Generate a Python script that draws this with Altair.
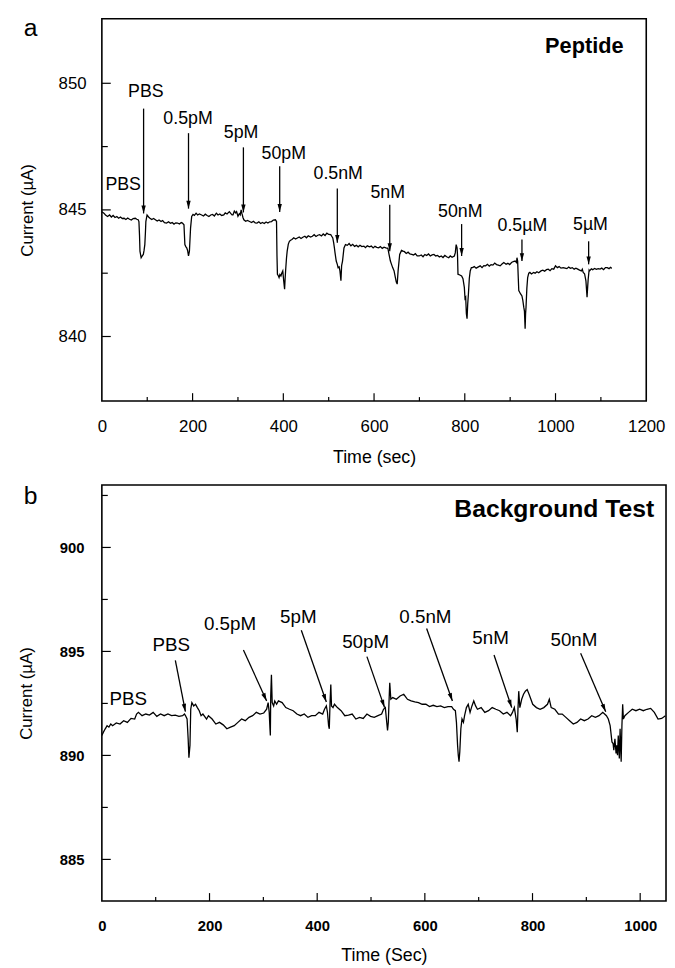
import math
import altair as alt
import pandas as pd

FONT = "Liberation Sans, Arial, Helvetica, sans-serif"

# ---------------- Panel a : Peptide ----------------
time_a = [0, 4.5, 8, 12.6, 17, 21, 24.8, 29, 33, 37, 41, 45, 49, 53, 57, 61, 65, 69, 73.6, 77, 80,
          81.7, 83, 84, 86.6, 89, 91.4, 93, 94.7, 96, 97, 99.6, 103, 106, 110, 114, 118, 122, 126,
          130.5, 134, 138, 142.7, 147, 151, 155, 159, 163, 167, 171, 175, 177.6, 181, 183, 185, 187,
          189, 191, 193, 195.5, 198, 201, 204, 207.7, 211, 215, 220, 224, 228, 232, 236, 240, 244,
          248, 252.4, 256, 260, 264, 268.7, 272, 276, 281, 284, 287, 289, 292, 295, 297, 300, 303,
          305, 307, 309, 311, 313, 317, 321, 325.6, 330, 334, 338, 342, 346, 350, 354, 358, 362,
          366, 370, 374, 378, 382.5, 385, 386, 387, 389, 390.6, 392.5, 394.7, 396.5, 398.8, 400.8,
          402.8, 404, 405, 407, 408.5, 411, 413.4, 416, 419, 423, 427, 431, 435, 439, 443, 447.5,
          451, 455, 460, 464, 468, 472, 476, 480, 484, 488, 492, 496, 500, 504.5, 507, 509, 511,
          512.6, 514, 516.6, 519, 520.7, 523, 524.8, 527, 528.5, 530.5, 533.7, 537, 541, 545, 549,
          553, 557, 561, 565, 569, 573, 577.6, 581, 585, 590, 594, 598, 602, 606, 610, 614, 618,
          622, 626, 630.5, 633, 636, 638.5, 641, 644, 647, 649, 651, 653, 656.5, 660.5, 664, 667,
          671, 675, 679, 683, 687, 691, 695, 699.6, 704, 708, 712, 716, 720, 724, 728, 732, 736,
          740, 744, 748, 752, 756, 760, 764.6, 768, 772, 777, 779, 781, 783, 784, 785, 789, 793,
          796, 799, 800.5, 802, 803.5, 805, 806.5, 808, 810, 812, 814.5, 817, 821, 825, 830, 834,
          838, 842, 846, 850, 854, 858, 862, 866, 870, 874, 878, 882, 886, 891, 895, 899, 903, 907,
          911, 914, 915, 916.5, 917.5, 919, 921, 923, 926, 928, 930, 931.5, 933, 934, 935, 936.8,
          938.6, 941, 943.5, 947, 951.6, 955, 959, 963, 968, 972, 976, 980, 984, 988, 992, 996,
          1000, 1004, 1008, 1012, 1017, 1021, 1025, 1029, 1033, 1037, 1041, 1045, 1049, 1053, 1057,
          1059, 1061, 1064, 1067, 1069.5, 1071, 1072, 1074, 1075, 1079, 1082, 1086, 1090, 1094,
          1098, 1102, 1106, 1110, 1114, 1118, 1121, 1124]
current_a = [844.93, 844.87, 844.80, 844.74, 844.80, 844.72, 844.78, 844.70, 844.74, 844.67, 844.72,
             844.66, 844.67, 844.62, 844.68, 844.63, 844.60, 844.66, 844.67, 844.63, 844.61,
             844.54, 844.0, 843.37, 843.11, 843.18, 843.24, 843.4, 843.63, 844.1, 844.54, 844.80,
             844.72, 844.67, 844.62, 844.66, 844.61, 844.56, 844.60, 844.54, 844.58, 844.50,
             844.48, 844.53, 844.47, 844.50, 844.44, 844.49, 844.48, 844.44, 844.50, 844.48,
             844.41, 843.63, 843.55, 843.50, 843.40, 843.18, 843.37, 844.28, 844.74, 844.82,
             844.78, 844.87, 844.80, 844.84, 844.80, 844.76, 844.83, 844.78, 844.74, 844.80,
             844.82, 844.76, 844.87, 844.80, 844.84, 844.78, 844.80, 844.88, 844.84, 844.93,
             844.86, 844.80, 844.80, 844.95, 844.88, 844.93, 844.75, 844.85, 844.80, 845.0,
             844.84, 844.70, 844.61, 844.55, 844.58, 844.54, 844.50, 844.55, 844.49, 844.48,
             844.53, 844.46, 844.50, 844.46, 844.52, 844.48, 844.53, 844.54, 844.60, 844.61,
             844.54, 843.2, 842.46, 842.4, 842.33, 842.45, 842.39, 842.5, 842.59, 842.2, 841.87,
             842.3, 842.59, 843.1, 843.37, 843.65, 843.76, 843.80, 843.83, 843.90, 843.85, 843.89,
             843.93, 843.87, 843.92, 843.96, 843.90, 843.98, 843.93, 843.96, 844.02, 843.95,
             844.00, 844.02, 843.97, 844.05, 843.99, 844.08, 844.03, 844.02, 843.95, 843.89,
             843.70, 843.50, 843.30, 842.98, 842.85, 842.72, 842.75, 842.59, 842.20, 842.8,
             842.98, 843.50, 843.63, 843.60, 843.67, 843.58, 843.64, 843.56, 843.60, 843.54,
             843.60, 843.55, 843.57, 843.51, 843.58, 843.54, 843.57, 843.50, 843.56, 843.52,
             843.50, 843.55, 843.48, 843.53, 843.50, 843.48, 843.24, 842.98, 842.85, 842.72,
             842.60, 842.33, 842.15, 842.07, 842.59, 843.24, 843.40, 843.37, 843.35, 843.28,
             843.33, 843.26, 843.24, 843.22, 843.27, 843.18, 843.18, 843.22, 843.15, 843.24,
             843.20, 843.26, 843.18, 843.22, 843.24, 843.18, 843.20, 843.14, 843.18, 843.12,
             843.20, 843.15, 843.11, 843.18, 843.13, 843.18, 843.30, 843.63, 843.50, 843.2,
             842.46, 842.43, 842.39, 842.28, 841.94, 841.5, 841.55, 840.9, 840.70, 841.3, 841.68,
             842.3, 842.59, 842.72, 842.72, 842.76, 842.70, 842.75, 842.79, 842.72, 842.80,
             842.79, 842.85, 842.78, 842.84, 842.82, 842.90, 842.84, 842.82, 842.79, 842.86,
             842.92, 842.85, 842.89, 842.84, 842.92, 842.96, 842.98, 842.92, 843.11, 842.98,
             842.50, 841.81, 841.75, 841.68, 841.60, 841.42, 841.16, 841.0, 840.31, 840.9, 841.16,
             841.90, 842.33, 842.50, 842.53, 842.47, 842.53, 842.50, 842.56, 842.52, 842.59,
             842.62, 842.58, 842.64, 842.66, 842.60, 842.68, 842.66, 842.79, 842.72, 842.76,
             842.70, 842.72, 842.70, 842.68, 842.74, 842.69, 842.72, 842.66, 842.70, 842.66,
             842.62, 842.59, 842.66, 842.53, 842.48, 842.20, 841.55, 842.0, 842.26, 842.62,
             842.59, 842.67, 842.64, 842.69, 842.65, 842.68, 842.66, 842.70, 842.64, 842.72,
             842.72, 842.68, 842.73, 842.69]

labels_a = ["PBS", "PBS", "0.5pM", "5pM", "50pM", "0.5nM", "5nM", "50nM", "0.5µM", "5µM"]
label_t_a = [47, 97, 190, 307, 401, 521, 630, 790, 927, 1077]
label_c_a = [846.0, 849.64, 848.6, 848.02, 847.21, 846.43, 845.65, 844.93, 844.35, 844.41]

arrow_t_a = [92, 191, 312, 392, 519, 634.6, 793, 926, 1073]
arrow_top_a = [849.0, 848.03, 847.47, 846.72, 845.84, 845.2, 844.44, 843.83, 843.76]
arrow_tip_a = [844.86, 845.05, 844.9, 844.92, 843.7, 843.37, 843.18, 842.98, 842.85]

xa_labels = [0, 200, 400, 600, 800, 1000, 1200]
xa_major = [200, 400, 600, 800, 1000]
xa_minor = [100, 300, 500, 700, 900, 1100]
ya_major = [840, 845, 850]
ya_minor = [842.5, 847.5]

# ---------------- Panel b : Background Test ----------------
time_b = [0, 2.9, 6.3, 9.7, 13.1, 16.6, 20, 26.8, 33.7, 40.5, 47.4, 54.2, 61, 64.5, 67.9, 74.7, 81.6,
          88.4, 95.3, 102.1, 109, 115.8, 122.7, 129.5, 136.4, 143.2, 150, 153.5, 155.5, 158.3,
          160.3, 161.7, 163.7, 165.1, 167.2, 170.6, 174, 177.4, 180.9, 184.3, 187.7, 194.5, 198,
          204.8, 211.7, 218.5, 225.4, 232.2, 239, 245.9, 252.7, 259.6, 266.4, 273.3, 280.1, 287,
          293.8, 300.7, 306.1, 308.9, 310.9, 312.3, 313, 313.7, 315, 316.4, 319.1, 321.2, 324.6,
          328, 334.9, 341.7, 348.6, 355.4, 362.3, 369.1, 376, 382.8, 389.7, 396.5, 403.4, 410.2,
          413.6, 417, 419.1, 421.2, 422.5, 423.9, 425.3, 426.6, 429.4, 432.1, 437.6, 444.4, 451.3,
          458.1, 465, 471.8, 478.7, 485.5, 492.4, 499.2, 506, 512.9, 519.7, 523.2, 526.6, 528.6,
          530.7, 532.1, 533.4, 534.8, 536.8, 540.3, 547.1, 554, 560.8, 567.7, 574.5, 581.3, 588.2,
          595, 601.9, 608.7, 615.6, 622.4, 629.3, 636.1, 643, 649.8, 653.2, 656.7, 658.7, 660.8,
          662.1, 663.5, 664.9, 666.9, 669, 671.7, 673.8, 677.2, 680.6, 684, 687.5, 690.9, 694.3,
          697.7, 704.6, 711.4, 718.3, 725.1, 732, 738.8, 745.7, 752.5, 759.3, 762.8, 766.2, 769.6,
          771.7, 773, 774.4, 776.5, 779.9, 783.3, 786.7, 790.1, 793.6, 797, 800.4, 807.3, 814.1,
          821, 827.8, 831.2, 834.7, 841.5, 848.3, 855.2, 862, 868.9, 875.7, 882.6, 889.4, 896.3,
          903.1, 910, 916.8, 923.6, 930.5, 933.9, 937.3, 940.8, 944.2, 947.6, 949.7, 951, 953.1,
          955.2, 956.5, 957.9, 959.3, 961.3, 962.7, 964.7, 966.1, 967.5, 968.8, 971.6, 978.4,
          985.3, 992.1, 999, 1005.8, 1012.6, 1019.5, 1026.3, 1033.2, 1040, 1046.9]
current_b = [890.96, 891.12, 891.28, 891.43, 891.36, 891.51, 891.43, 891.56, 891.51, 891.67, 891.59,
             891.78, 891.75, 891.99, 892.07, 891.91, 891.99, 891.94, 892.07, 891.88, 891.99,
             891.91, 891.99, 891.91, 891.94, 891.88, 891.91, 891.99, 891.91, 891.75, 890.80,
             889.89, 890.49, 892.22, 892.54, 892.38, 892.46, 892.30, 892.15, 891.91, 891.99,
             891.75, 891.91, 891.75, 891.51, 891.59, 891.47, 891.28, 891.36, 891.43, 891.59,
             891.75, 891.67, 891.83, 891.91, 892.07, 891.99, 892.04, 892.22, 892.54, 892.07,
             891.28, 890.96, 892.86, 893.88, 892.54, 892.38, 892.62, 892.46, 892.62, 892.54,
             892.30, 892.22, 892.15, 891.99, 891.91, 891.99, 891.83, 891.91, 891.91, 892.07,
             891.99, 892.22, 892.38, 892.07, 891.43, 891.28, 892.54, 893.41, 892.38, 892.30,
             892.46, 892.30, 892.15, 891.91, 891.94, 891.99, 891.75, 891.83, 891.78, 891.99,
             891.88, 891.83, 891.91, 891.99, 892.22, 892.30, 891.75, 891.20, 891.59, 892.54,
             893.49, 892.70, 892.78, 892.70, 892.86, 892.94, 892.70, 892.62, 892.57, 892.54,
             892.46, 892.46, 892.35, 892.41, 892.35, 892.38, 892.30, 892.35, 892.35, 892.22,
             892.15, 891.59, 890.49, 890.01, 889.70, 890.17, 891.28, 891.75, 891.59, 891.91,
             892.30, 892.46, 892.07, 892.38, 892.62, 892.38, 892.22, 892.30, 892.07, 892.15,
             892.30, 892.22, 892.15, 891.99, 892.07, 891.91, 892.07, 892.30, 891.75, 891.12,
             892.22, 893.09, 892.30, 892.70, 892.94, 893.09, 893.17, 892.94, 892.70, 892.46,
             892.30, 892.22, 892.30, 892.46, 892.70, 892.30, 892.22, 891.99, 891.99, 891.83,
             891.67, 891.51, 891.59, 891.75, 891.67, 891.75, 891.91, 891.83, 891.91, 892.07,
             891.99, 891.91, 891.75, 891.43, 890.65, 890.57, 890.25, 890.80, 890.09, 890.49,
             890.01, 890.96, 889.85, 891.28, 889.70, 891.43, 892.46, 891.75, 891.91, 892.07,
             892.22, 892.15, 892.22, 892.15, 892.22, 892.26, 892.07, 891.75, 891.78, 891.91]

labels_b = ["PBS", "PBS", "0.5pM", "5pM", "50pM", "0.5nM", "5nM", "50nM"]
label_t_b = [49, 129, 238, 365, 490, 601, 722, 877]
label_c_b = [892.7, 895.31, 896.3, 896.65, 895.46, 896.65, 895.62, 895.55]

arrow_t1_b = [136.5, 263, 370.5, 492.4, 603.3, 728.5, 889.4]
arrow_c1_b = [894.57, 895.07, 896.02, 894.75, 896.1, 894.83, 894.91]
arrow_t2_b = [155.2, 306.1, 417, 525.2, 651.2, 761.4, 936]
arrow_c2_b = [892.1, 892.62, 892.57, 892.3, 892.62, 892.3, 892.1]

xb_labels = [0, 200, 400, 600, 800, 1000]
xb_major = [200, 400, 600, 800, 1000]
xb_minor = [100, 300, 500, 700, 900]
yb_major = [885, 890, 895, 900]
yb_minor = [887.5, 892.5, 897.5, 902.5]

# ---------------- layout constants ----------------
WA, HA = 551, 387
WB, HB = 571, 421
XA_DOM, YA_DOM = [0, 1200], [837.45, 852.55]
XB_DOM, YB_DOM = [0, 1048], [883, 903]
ARROW = "M-0.55,-2L0.55,-2L0,0Z"


def make_panel(time, cur, xdom, ydom, w, h, xlabels, ylabels, xtitle, lab_font, lab_weight,
               lab_pad_y, title_pad_y, title_pad_x, xmaj, xmin, ymaj, ymin):
    xs = alt.Scale(domain=xdom, nice=False, zero=False)
    ys = alt.Scale(domain=ydom, nice=False, zero=False)
    xax = alt.Axis(values=xlabels, title=xtitle, labelFontSize=lab_font,
                   labelFontWeight=lab_weight, labelPadding=18, titlePadding=title_pad_x,
                   titleFontSize=18, format="d")
    yax = alt.Axis(values=ylabels, title="Current (µA)", labelFontSize=lab_font,
                   labelFontWeight=lab_weight, labelPadding=lab_pad_y,
                   titlePadding=title_pad_y, titleFontSize=17, format="d")

    def X(f):
        return alt.X(f, type="quantitative", scale=xs, axis=xax)

    def Y(f):
        return alt.Y(f, type="quantitative", scale=ys, axis=yax)

    df = pd.DataFrame({"t": time, "c": cur})
    layers = [alt.Chart(df).mark_line(color="black", strokeWidth=1.3, clip=True).encode(
        x=X("t"), y=Y("c"))]
    for vals, ln in ((ymaj, 9), (ymin, 6)):
        d = pd.DataFrame({"v": vals})
        layers.append(alt.Chart(d).mark_rule(color="black", strokeWidth=1.2).encode(
            y=Y("v"), x=alt.value(0), x2=alt.value(ln)))
    for vals, ln in ((xmaj, 8), (xmin, 4)):
        d = pd.DataFrame({"v": vals})
        layers.append(alt.Chart(d).mark_rule(color="black", strokeWidth=1.2).encode(
            x=X("v"), y=alt.value(h), y2=alt.value(h - ln)))
    return X, Y, layers


# panel a
Xa, Ya, layers_a = make_panel(time_a, current_a, XA_DOM, YA_DOM, WA, HA, xa_labels, ya_major,
                              "Time (sec)", 17, "normal", 16, 22, 14,
                              xa_major, xa_minor, ya_major, ya_minor)
ann_a = pd.DataFrame({"t": label_t_a, "c": label_c_a, "label": labels_a})
text_a = alt.Chart(ann_a).mark_text(font=FONT, fontSize=18, align="center", baseline="middle",
                                    color="black").encode(x=Xa("t"), y=Ya("c"), text="label:N")
arr_a = pd.DataFrame({"t": arrow_t_a, "top": arrow_top_a, "tip": arrow_tip_a})
shaft_a = alt.Chart(arr_a).mark_rule(color="black", strokeWidth=1.3).encode(
    x=Xa("t"), y=Ya("top"), y2="tip:Q")
head_a = alt.Chart(arr_a).mark_point(shape=ARROW, filled=True, size=64, color="black",
                                     opacity=1, strokeWidth=0).encode(x=Xa("t"), y=Ya("tip"))
title_a = alt.Chart(pd.DataFrame({"t": [1150], "c": [851.47], "label": ["Peptide"]})).mark_text(
    font=FONT, fontSize=22, fontWeight="bold", align="right", baseline="middle",
    color="black").encode(x=Xa("t"), y=Ya("c"), text="label:N")
letter_a = alt.Chart(pd.DataFrame({"lab": ["a"]})).mark_text(
    font=FONT, fontSize=25, align="center", baseline="alphabetic", color="black").encode(
    x=alt.value(-72), y=alt.value(18), text="lab:N")

chart_a = alt.layer(*layers_a, shaft_a, head_a, text_a, title_a, letter_a).properties(
    width=WA, height=HA)

# panel b
Xb, Yb, layers_b = make_panel(time_b, current_b, XB_DOM, YB_DOM, WB, HB, xb_labels, yb_major,
                              "Time (Sec)", 15, "bold", 18, 24, 13,
                              xb_major, xb_minor, yb_major, yb_minor)
ann_b = pd.DataFrame({"t": label_t_b, "c": label_c_b, "label": labels_b})
text_b = alt.Chart(ann_b).mark_text(font=FONT, fontSize=19, align="center", baseline="middle",
                                    color="black").encode(x=Xb("t"), y=Yb("c"), text="label:N")

px_t = WB / (XB_DOM[1] - XB_DOM[0])
px_c = HB / (YB_DOM[1] - YB_DOM[0])
angles_b = []
for t1, c1, t2, c2 in zip(arrow_t1_b, arrow_c1_b, arrow_t2_b, arrow_c2_b):
    th = math.degrees(math.atan2(-(c2 - c1) * px_c, (t2 - t1) * px_t))
    angles_b.append((th - 90) % 360)
arr_b = pd.DataFrame({"t1": arrow_t1_b, "c1": arrow_c1_b, "t2": arrow_t2_b, "c2": arrow_c2_b,
                      "ang": angles_b})
shaft_b = alt.Chart(arr_b).mark_rule(color="black", strokeWidth=1.3).encode(
    x=Xb("t1"), y=Yb("c1"), x2="t2:Q", y2="c2:Q")
head_b = alt.Chart(arr_b).mark_point(shape=ARROW, filled=True, size=64, color="black",
                                     opacity=1, strokeWidth=0).encode(
    x=Xb("t2"), y=Yb("c2"), angle=alt.Angle("ang:Q", scale=None))
title_b = alt.Chart(pd.DataFrame({"t": [1026], "c": [901.83], "label": ["Background Test"]})).mark_text(
    font=FONT, fontSize=25, fontWeight="bold", align="right", baseline="middle",
    color="black").encode(x=Xb("t"), y=Yb("c"), text="label:N")
letter_b = alt.Chart(pd.DataFrame({"lab": ["b"]})).mark_text(
    font=FONT, fontSize=25, align="center", baseline="alphabetic", color="black").encode(
    x=alt.value(-72), y=alt.value(19), text="lab:N")

chart_b = alt.layer(*layers_b, shaft_b, head_b, text_b, title_b, letter_b).properties(
    width=WB, height=HB)

chart = alt.vconcat(chart_a, chart_b, spacing=16).properties(
    padding={"left": 9, "top": 2, "right": 0, "bottom": 0},
    background="white",
).configure_view(stroke="black", strokeWidth=1.6).configure_axis(
    domain=False, ticks=False, tickSize=0, grid=False, labelFlush=False,
    labelColor="black", titleColor="black", titleFontWeight="normal",
    labelFont=FONT, titleFont=FONT,
)

chart.save("out.html", embed_options={"renderer": "svg", "actions": False})
